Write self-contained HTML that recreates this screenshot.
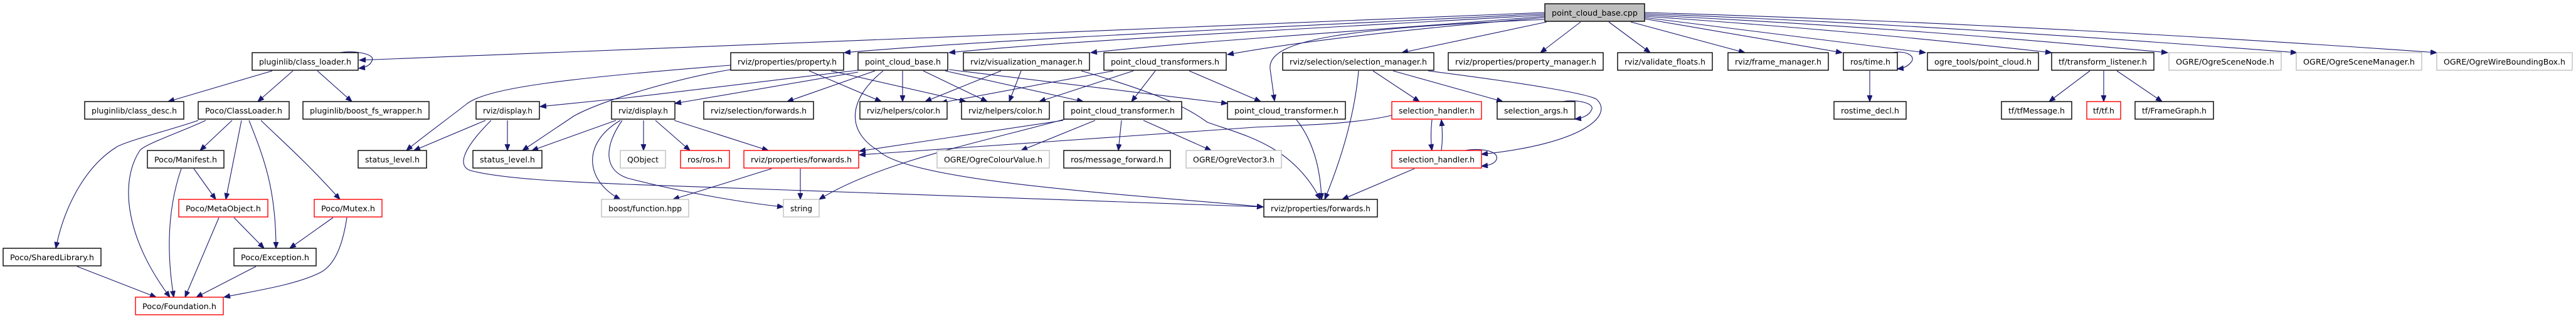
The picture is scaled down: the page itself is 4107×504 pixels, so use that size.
<!DOCTYPE html>
<html><head><meta charset="utf-8"><style>
html,body{margin:0;padding:0;background:#fff;}
svg{display:block;}
.n rect{fill:#fff;stroke:#000;stroke-width:1.4;}
.g rect{fill:#fff;stroke:#bfbfbf;stroke-width:1.4;}
.r rect{fill:#fff;stroke:#ff0000;stroke-width:1.4;}
.c rect{fill:#bfbfbf;stroke:#000;stroke-width:1.4;}
text{font-family:"DejaVu Sans","Liberation Sans",sans-serif;font-size:12px;fill:#000;text-anchor:middle;}
path{fill:none;stroke:#191970;stroke-width:1.1;}
</style></head><body>
<svg width="4107" height="504" viewBox="0 0 4107 504" xmlns="http://www.w3.org/2000/svg">
<defs><marker id="a" markerUnits="userSpaceOnUse" markerWidth="11" markerHeight="9" refX="10" refY="4" orient="auto"><path d="M0,0 L10,4 L0,8 z" style="fill:#191970;stroke:#191970;stroke-width:1"/></marker></defs>
<g marker-end="url(#a)">
<!-- cpp outgoing -->
<path d="M2463,20 C2000,40 1000,79 573,96"/>
<path d="M2463,22 C2000,45 1600,62 1346,84"/>
<path d="M2463,24 C2100,45 1700,65 1513,84"/>
<path d="M2463,26 C2200,48 1900,66 1739,84"/>
<path d="M2463,28 C2200,50 2050,70 1957,87"/>
<path d="M2463,31 C2150,45 2020,62 2025,110 L2032,161"/>
<path d="M2466,35 L2235,84"/>
<path d="M2520,35 L2456,84"/>
<path d="M2565,35 L2631,84"/>
<path d="M2600,35 L2782,84"/>
<path d="M2622,30 L2937,84"/>
<path d="M2622,28 C2800,50 2950,70 3070,84"/>
<path d="M2622,26 C2900,45 3100,65 3271,84"/>
<path d="M2622,24 C2950,40 3200,60 3456,84"/>
<path d="M2622,22 C3000,36 3350,60 3662,84"/>
<path d="M2622,20 C3100,34 3550,60 3885,84"/>
<!-- class_loader -->
<path d="M542,84 C560,80 600,85 593,97 C590,105 580,108 572,109"/>
<path d="M434,113 L268,162"/>
<path d="M467,113 L411,162"/>
<path d="M506,113 L561,162"/>
<!-- ClassLoader -->
<path d="M316,192 C280,205 200,225 185,235 C130,270 100,340 89,396"/>
<path d="M328,192 C290,210 230,230 223,240 C190,290 200,380 271,474"/>
<path d="M370,192 L319,240"/>
<path d="M385,192 L360,318"/>
<path d="M397,192 C420,250 440,300 440,396"/>
<path d="M416,192 C450,225 490,260 542,318"/>
<path d="M309,269 L344,318"/>
<path d="M289,269 C268,330 265,400 277,474"/>
<path d="M373,347 L421,396"/>
<path d="M349,347 L295,474"/>
<path d="M531,347 L462,396"/>
<path d="M553,347 C545,400 530,425 510,435 C470,455 400,465 357,474"/>
<path d="M123,425 L249,474"/>
<path d="M408,425 L313,474"/>
<!-- displays / status -->
<path d="M1165,104 C900,125 780,140 745,165 C720,185 665,225 648,240"/>
<path d="M1165,111 C1080,125 960,160 915,185 L833,240"/>
<path d="M1368,112 L1000,156 L861,170"/>
<path d="M1368,115 L1076,165"/>
<path d="M774,192 L660,240"/>
<path d="M809,192 L809,240"/>
<path d="M783,192 C735,240 730,265 750,272 C800,285 900,290 1000,294 L2014,330"/>
<path d="M982,192 L848,240"/>
<path d="M989,192 C925,230 935,290 989,318"/>
<path d="M992,192 C965,230 960,270 1000,284 C1100,310 1200,325 1249,330"/>
<path d="M1026,192 L1026,240"/>
<path d="M1045,192 L1100,240"/>
<path d="M1075,192 L1225,240"/>
<!-- point_cloud_base.h etc -->
<path d="M1395,113 L1255,162"/>
<path d="M1439,113 L1439,162"/>
<path d="M1472,113 L1574,162"/>
<path d="M1507,113 L1727,162"/>
<path d="M1513,111 L1957,165"/>
<path d="M1408,113 C1350,160 1350,210 1400,240 C1450,290 1800,310 2014,330"/>
<path d="M1290,113 L1405,162"/>
<path d="M1325,113 L1540,162"/>
<path d="M1596,113 L1475,162"/>
<path d="M1628,113 L1609,162"/>
<path d="M1775,113 L1500,164"/>
<path d="M1807,113 L1657,162"/>
<path d="M1842,113 L1804,162"/>
<path d="M1896,113 L2010,162"/>
<path d="M1724,113 C1850,150 1890,170 1925,195 C1980,215 2060,230 2105,318"/>
<!-- point_cloud_transformer a -->
<path d="M1695,192 L1370,241"/>
<path d="M1698,190 C1550,230 1400,260 1306,318"/>
<path d="M1746,192 L1628,240"/>
<path d="M1788,192 L1783,240"/>
<path d="M1823,192 L1931,240"/>
<path d="M2219,184 C2150,200 2050,200 2000,203 L1370,247"/>
<path d="M1230,269 L1073,318"/>
<path d="M1276,269 L1276,318"/>
<!-- selection -->
<path d="M2067,191 C2090,220 2105,260 2107,318"/>
<path d="M2166,113 C2160,180 2140,250 2112,318"/>
<path d="M2189,113 L2263,162"/>
<path d="M2221,113 L2396,162"/>
<path d="M2277,113 C2450,135 2530,150 2545,158 C2575,185 2520,230 2362,246"/>
<path d="M2283,191 C2281,210 2281,225 2283,240"/>
<path d="M2298,240 C2300,225 2300,210 2298,191"/>
<path d="M2335,240 C2360,236 2390,240 2386,254 C2383,262 2372,264 2362,265"/>
<path d="M2491,162 C2515,158 2545,165 2537,176 C2533,185 2520,189 2511,190"/>
<path d="M2255,269 L2140,318"/>
<!-- ros time -->
<path d="M3017,84 C3040,80 3055,90 3047,99 C3042,106 3033,109 3025,110"/>
<path d="M2981,113 L2981,162"/>
<!-- tf -->
<path d="M3332,113 L3267,162"/>
<path d="M3354,113 L3354,162"/>
<path d="M3375,113 L3447,162"/>
</g>
<!-- nodes -->
<g class="c"><rect x="2463" y="6" width="159" height="28"/><text x="2542.5" y="25" textLength="137" lengthAdjust="spacingAndGlyphs">point_cloud_base.cpp</text></g>
<g class="n"><rect x="402" y="84" width="169" height="28"/><text x="486.5" y="103" textLength="147" lengthAdjust="spacingAndGlyphs">pluginlib/class_loader.h</text></g>
<g class="n"><rect x="1165" y="84" width="180" height="28"/><text x="1255" y="103" textLength="158" lengthAdjust="spacingAndGlyphs">rviz/properties/property.h</text></g>
<g class="n"><rect x="1368" y="84" width="143" height="28"/><text x="1439.5" y="103" textLength="121" lengthAdjust="spacingAndGlyphs">point_cloud_base.h</text></g>
<g class="n"><rect x="1536" y="84" width="201" height="28"/><text x="1636.5" y="103" textLength="179" lengthAdjust="spacingAndGlyphs">rviz/visualization_manager.h</text></g>
<g class="n"><rect x="1760" y="84" width="195" height="28"/><text x="1857.5" y="103" textLength="173" lengthAdjust="spacingAndGlyphs">point_cloud_transformers.h</text></g>
<g class="n"><rect x="2045" y="84" width="241" height="28"/><text x="2165.5" y="103" textLength="219" lengthAdjust="spacingAndGlyphs">rviz/selection/selection_manager.h</text></g>
<g class="n"><rect x="2309" y="84" width="247" height="28"/><text x="2432.5" y="103" textLength="225" lengthAdjust="spacingAndGlyphs">rviz/properties/property_manager.h</text></g>
<g class="n"><rect x="2579" y="84" width="151" height="28"/><text x="2654.5" y="103" textLength="129" lengthAdjust="spacingAndGlyphs">rviz/validate_floats.h</text></g>
<g class="n"><rect x="2755" y="84" width="160" height="28"/><text x="2835" y="103" textLength="138" lengthAdjust="spacingAndGlyphs">rviz/frame_manager.h</text></g>
<g class="n"><rect x="2939" y="84" width="86" height="28"/><text x="2982" y="103" textLength="64" lengthAdjust="spacingAndGlyphs">ros/time.h</text></g>
<g class="n"><rect x="3073" y="84" width="177" height="28"/><text x="3161.5" y="103" textLength="155" lengthAdjust="spacingAndGlyphs">ogre_tools/point_cloud.h</text></g>
<g class="n"><rect x="3271" y="84" width="163" height="28"/><text x="3352.5" y="103" textLength="141" lengthAdjust="spacingAndGlyphs">tf/transform_listener.h</text></g>
<g class="g"><rect x="3458" y="84" width="179" height="28"/><text x="3547.5" y="103" textLength="157" lengthAdjust="spacingAndGlyphs">OGRE/OgreSceneNode.h</text></g>
<g class="g"><rect x="3661" y="84" width="200" height="28"/><text x="3761" y="103" textLength="178" lengthAdjust="spacingAndGlyphs">OGRE/OgreSceneManager.h</text></g>
<g class="g"><rect x="3885" y="84" width="216" height="28"/><text x="3993" y="103" textLength="194" lengthAdjust="spacingAndGlyphs">OGRE/OgreWireBoundingBox.h</text></g>

<g class="n"><rect x="135" y="162" width="158" height="28"/><text x="214" y="181" textLength="136" lengthAdjust="spacingAndGlyphs">pluginlib/class_desc.h</text></g>
<g class="n"><rect x="316" y="162" width="145" height="28"/><text x="388.5" y="181" textLength="123" lengthAdjust="spacingAndGlyphs">Poco/ClassLoader.h</text></g>
<g class="n"><rect x="483" y="162" width="201" height="28"/><text x="583.5" y="181" textLength="179" lengthAdjust="spacingAndGlyphs">pluginlib/boost_fs_wrapper.h</text></g>
<g class="n"><rect x="759" y="162" width="101" height="28"/><text x="809.5" y="181" textLength="79" lengthAdjust="spacingAndGlyphs">rviz/display.h</text></g>
<g class="n"><rect x="975" y="162" width="101" height="28"/><text x="1025.5" y="181" textLength="79" lengthAdjust="spacingAndGlyphs">rviz/display.h</text></g>
<g class="n"><rect x="1122" y="162" width="175" height="28"/><text x="1209.5" y="181" textLength="153" lengthAdjust="spacingAndGlyphs">rviz/selection/forwards.h</text></g>
<g class="n"><rect x="1371" y="162" width="139" height="28"/><text x="1440.5" y="181" textLength="117" lengthAdjust="spacingAndGlyphs">rviz/helpers/color.h</text></g>
<g class="n"><rect x="1533" y="162" width="140" height="28"/><text x="1603" y="181" textLength="118" lengthAdjust="spacingAndGlyphs">rviz/helpers/color.h</text></g>
<g class="n"><rect x="1696" y="162" width="188" height="28"/><text x="1790" y="181" textLength="166" lengthAdjust="spacingAndGlyphs">point_cloud_transformer.h</text></g>
<g class="n"><rect x="1957" y="162" width="188" height="28"/><text x="2051" y="181" textLength="166" lengthAdjust="spacingAndGlyphs">point_cloud_transformer.h</text></g>
<g class="r"><rect x="2219" y="162" width="143" height="28"/><text x="2290.5" y="181" textLength="121" lengthAdjust="spacingAndGlyphs">selection_handler.h</text></g>
<g class="n"><rect x="2387" y="162" width="124" height="28"/><text x="2449" y="181" textLength="102" lengthAdjust="spacingAndGlyphs">selection_args.h</text></g>
<g class="n"><rect x="2924" y="162" width="115" height="28"/><text x="2981.5" y="181" textLength="93" lengthAdjust="spacingAndGlyphs">rostime_decl.h</text></g>
<g class="n"><rect x="3191" y="162" width="112" height="28"/><text x="3247" y="181" textLength="90" lengthAdjust="spacingAndGlyphs">tf/tfMessage.h</text></g>
<g class="r"><rect x="3327" y="162" width="54" height="28"/><text x="3354" y="181" textLength="34" lengthAdjust="spacingAndGlyphs">tf/tf.h</text></g>
<g class="n"><rect x="3404" y="162" width="125" height="28"/><text x="3466.5" y="181" textLength="103" lengthAdjust="spacingAndGlyphs">tf/FrameGraph.h</text></g>

<g class="n"><rect x="235" y="240" width="122" height="28"/><text x="296" y="259" textLength="100" lengthAdjust="spacingAndGlyphs">Poco/Manifest.h</text></g>
<g class="n"><rect x="571" y="240" width="109" height="28"/><text x="625.5" y="259" textLength="87" lengthAdjust="spacingAndGlyphs">status_level.h</text></g>
<g class="n"><rect x="754" y="240" width="110" height="28"/><text x="809" y="259" textLength="88" lengthAdjust="spacingAndGlyphs">status_level.h</text></g>
<g class="g"><rect x="989" y="240" width="72" height="28"/><text x="1025" y="259" textLength="50" lengthAdjust="spacingAndGlyphs">QObject</text></g>
<g class="r"><rect x="1085" y="240" width="78" height="28"/><text x="1124" y="259" textLength="56" lengthAdjust="spacingAndGlyphs">ros/ros.h</text></g>
<g class="r"><rect x="1186" y="240" width="183" height="28"/><text x="1277.5" y="259" textLength="161" lengthAdjust="spacingAndGlyphs">rviz/properties/forwards.h</text></g>
<g class="g"><rect x="1494" y="240" width="179" height="28"/><text x="1583.5" y="259" textLength="157" lengthAdjust="spacingAndGlyphs">OGRE/OgreColourValue.h</text></g>
<g class="n"><rect x="1696" y="240" width="170" height="28"/><text x="1781" y="259" textLength="148" lengthAdjust="spacingAndGlyphs">ros/message_forward.h</text></g>
<g class="g"><rect x="1891" y="240" width="152" height="28"/><text x="1967" y="259" textLength="130" lengthAdjust="spacingAndGlyphs">OGRE/OgreVector3.h</text></g>
<g class="r"><rect x="2219" y="240" width="143" height="28"/><text x="2290.5" y="259" textLength="121" lengthAdjust="spacingAndGlyphs">selection_handler.h</text></g>

<g class="r"><rect x="285" y="318" width="142" height="28"/><text x="356" y="337" textLength="120" lengthAdjust="spacingAndGlyphs">Poco/MetaObject.h</text></g>
<g class="r"><rect x="501" y="318" width="108" height="28"/><text x="555" y="337" textLength="86" lengthAdjust="spacingAndGlyphs">Poco/Mutex.h</text></g>
<g class="g"><rect x="959" y="318" width="139" height="28"/><text x="1028.5" y="337" textLength="117" lengthAdjust="spacingAndGlyphs">boost/function.hpp</text></g>
<g class="g"><rect x="1249" y="318" width="57" height="28"/><text x="1277.5" y="337" textLength="35" lengthAdjust="spacingAndGlyphs">string</text></g>
<g class="n"><rect x="2015" y="318" width="181" height="28"/><text x="2105.5" y="337" textLength="159" lengthAdjust="spacingAndGlyphs">rviz/properties/forwards.h</text></g>

<g class="n"><rect x="5" y="396" width="156" height="28"/><text x="83" y="415" textLength="134" lengthAdjust="spacingAndGlyphs">Poco/SharedLibrary.h</text></g>
<g class="n"><rect x="373" y="396" width="131" height="28"/><text x="438.5" y="415" textLength="109" lengthAdjust="spacingAndGlyphs">Poco/Exception.h</text></g>
<g class="r"><rect x="216" y="474" width="140" height="28"/><text x="286" y="493" textLength="118" lengthAdjust="spacingAndGlyphs">Poco/Foundation.h</text></g>
</svg>
</body></html>
